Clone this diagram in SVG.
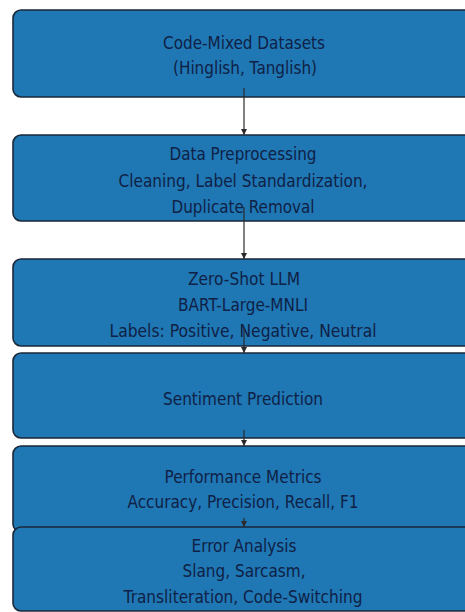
<svg xmlns="http://www.w3.org/2000/svg" width="465" height="612" viewBox="0 0 465 612">
  <defs>
    <style>
      .box { fill: #1f77b4; stroke: #1a2838; stroke-width: 1.6; }
      .lbl { font-family: "DejaVu Sans", "Liberation Sans", sans-serif; font-size: 17px; fill: #0f2145; text-anchor: middle; }
      .conn { stroke: #2a2a2a; stroke-width: 1.2; fill: none; marker-end: url(#arrow); }
    </style>
    <marker id="arrow" viewBox="0 0 10 10" refX="10" refY="5" markerWidth="6" markerHeight="6" markerUnits="userSpaceOnUse" orient="auto">
      <path d="M0,0 L10,5 L0,10 z" fill="#2a2a2a"/>
    </marker>
  </defs>
  <rect width="465" height="612" fill="#ffffff"/>

  <g id="node-datasets">
    <rect class="box" x="13" y="10" width="462" height="87" rx="8"/>
    <text class="lbl" x="244" y="49" textLength="162" lengthAdjust="spacingAndGlyphs">Code-Mixed Datasets</text>
    <text class="lbl" x="245" y="74" textLength="144" lengthAdjust="spacingAndGlyphs">(Hinglish, Tanglish)</text>
  </g>

  <g id="node-preprocessing">
    <rect class="box" x="13" y="135" width="462" height="86" rx="8"/>
    <text class="lbl" x="243" y="160" textLength="147" lengthAdjust="spacingAndGlyphs">Data Preprocessing</text>
    <text class="lbl" x="243" y="187" textLength="249" lengthAdjust="spacingAndGlyphs">Cleaning, Label Standardization,</text>
    <text class="lbl" x="243" y="213" textLength="143" lengthAdjust="spacingAndGlyphs">Duplicate Removal</text>
  </g>

  <g id="node-llm">
    <rect class="box" x="13" y="259" width="462" height="87" rx="8"/>
    <text class="lbl" x="244" y="285" textLength="112" lengthAdjust="spacingAndGlyphs">Zero-Shot LLM</text>
    <text class="lbl" x="243" y="311" textLength="130" lengthAdjust="spacingAndGlyphs">BART-Large-MNLI</text>
    <text class="lbl" x="243" y="337" textLength="267" lengthAdjust="spacingAndGlyphs">Labels: Positive, Negative, Neutral</text>
  </g>

  <g id="node-prediction">
    <rect class="box" x="13" y="353" width="462" height="85" rx="8"/>
    <text class="lbl" x="243" y="405" textLength="160" lengthAdjust="spacingAndGlyphs">Sentiment Prediction</text>
  </g>

  <g id="node-metrics">
    <rect class="box" x="13" y="446" width="462" height="86" rx="8"/>
    <text class="lbl" x="243" y="483" textLength="157" lengthAdjust="spacingAndGlyphs">Performance Metrics</text>
    <text class="lbl" x="243" y="508" textLength="231" lengthAdjust="spacingAndGlyphs">Accuracy, Precision, Recall, F1</text>
  </g>

  <g id="node-error">
    <rect class="box" x="13" y="527" width="462" height="84" rx="8"/>
    <text class="lbl" x="244" y="552" textLength="105" lengthAdjust="spacingAndGlyphs">Error Analysis</text>
    <text class="lbl" x="244" y="577" textLength="123" lengthAdjust="spacingAndGlyphs">Slang, Sarcasm,</text>
    <text class="lbl" x="243" y="603" textLength="239" lengthAdjust="spacingAndGlyphs">Transliteration, Code-Switching</text>
  </g>

  <g id="connectors">
    <line class="conn" x1="244" y1="88" x2="244" y2="135"/>
    <line class="conn" x1="244" y1="207" x2="244" y2="259"/>
    <line class="conn" x1="244" y1="328" x2="244" y2="353"/>
    <line class="conn" x1="244" y1="430" x2="244" y2="446"/>
    <line class="conn" x1="244" y1="518" x2="244" y2="527"/>
  </g>
</svg>
